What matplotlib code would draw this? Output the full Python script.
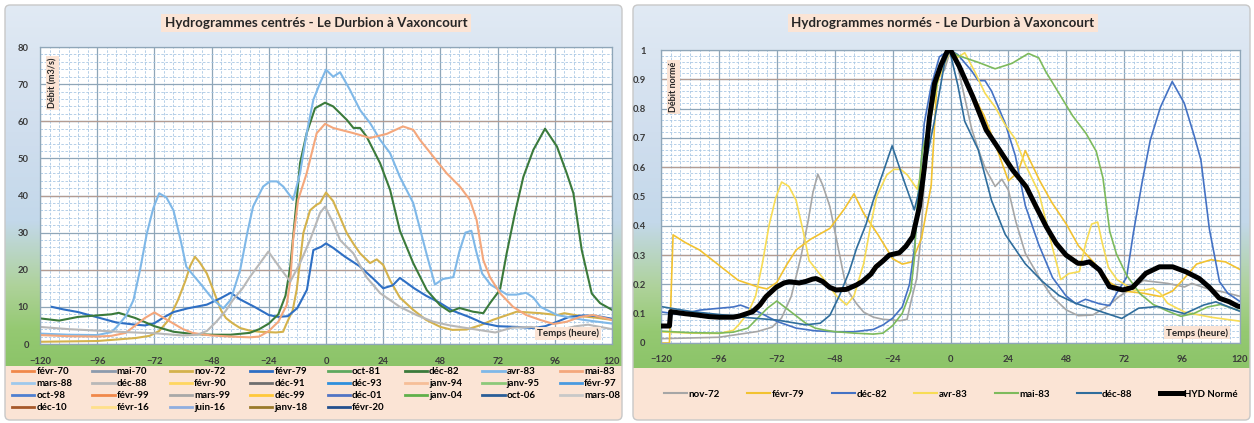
import numpy as np
import matplotlib
matplotlib.use("Agg")
import matplotlib.pyplot as plt
from matplotlib.patches import FancyBboxPatch, Rectangle
from matplotlib.colors import LinearSegmentedColormap
from matplotlib.lines import Line2D
from matplotlib.ticker import MultipleLocator

plt.rcParams['font.family'] = ['Lato', 'DejaVu Sans']

# ---------------- data ----------------
legend_labels = ["févr-70", "mai-70", "nov-72", "févr-79", "oct-81", "déc-82", "avr-83", "mai-83",
                 "mars-88", "déc-88", "févr-90", "déc-91", "déc-93", "janv-94", "janv-95", "févr-97",
                 "oct-98", "févr-99", "mars-99", "déc-99", "déc-01", "janv-04", "oct-06", "mars-08",
                 "déc-10", "févr-16", "juin-16", "janv-18", "févr-20"]
legend_colors = ["#F0884A", "#8C9BAD", "#D4B24C", "#2E6FC4", "#5EA85E", "#3B7A3B", "#7FB8E8", "#F4A77C",
                 "#9EC8EC", "#B8B8B8", "#FFD660", "#6E6E6E", "#2F8FDC", "#F6BE98", "#8CC87A", "#4A9AE0",
                 "#4F7FD0", "#F0884A", "#A8A8A8", "#FFC83A", "#5274C4", "#5FB04A", "#2A5E98", "#C8C8C8",
                 "#A6582A", "#FFE08A", "#8FAEE0", "#9A7A2A", "#24508E"]

# nov-72
t_nov72 = [-120, -108, -96, -88, -80, -74, -70, -66, -62, -59, -57, -55, -53, -50, -47, -44, -42, -39, -36,
           -32, -28, -24, -21, -18, -16.5, -14, -12.3, -9.5, -6.7, -4, -2.5, 0, 3, 6, 8.7, 11.5, 14.3, 18.5,
           21.3, 24, 27, 31, 36.6, 42, 48, 53, 59, 65, 70, 76, 80, 90, 97, 100, 107, 113, 120]
q_nov72 = [0.6, 0.7, 0.8, 1.2, 1.6, 2.2, 3.5, 6.5, 12, 17, 21, 23.5, 22, 19, 14, 9, 7, 5.5, 4.3,
           3.6, 3.3, 3.2, 3.1, 3.3, 5.6, 9, 14.6, 29.9, 36, 37.5, 38, 40.8, 38.5, 34, 29.9, 27, 24.4, 21.8,
           22.8, 21.3, 17, 12.5, 9.2, 6.5, 4.6, 3.8, 3.9, 5.1, 6.5, 7.8, 8.7, 8.3, 7.8, 8.3, 7.5, 7.1, 6.5]

# févr-79
t_fev79 = [-115, -110, -104, -96, -88, -80, -76, -72, -68, -64, -58, -50, -44, -40, -36, -30, -24, -20,
           -16, -12, -8, -5.3, -2, 0, 3, 8, 14, 20, 24, 28, 31, 37, 42, 48, 53, 60, 66, 72, 80, 87, 92,
           97, 102, 108, 114, 120]
q_fev79 = [10, 9.3, 8.6, 7.2, 5.8, 5.2, 5.0, 5.6, 7.2, 8.6, 9.6, 10.6, 12.4, 13.8, 12, 10, 7.8, 7.3,
           7.5, 9.7, 14.6, 25.3, 26.2, 27.1, 25.9, 23.5, 21, 17.5, 15, 15.8, 17.8, 15, 13, 11, 9, 7.3, 5.6,
           4.8, 4.6, 4.3, 4.8, 6, 7.3, 7.7, 7.5, 6.8]

# déc-82
t_dec82 = [-120, -112, -104, -96, -90, -87, -80, -72, -64, -56, -48, -40, -32, -28, -24, -20, -17, -15,
           -12.3, -10.9, -8.1, -4.6, -0.4, 3, 8.7, 11.5, 14.3, 17, 22.7, 26.9, 31, 36.6, 42.3, 47.8, 52, 56,
           61.7, 66, 68.8, 73, 75.8, 79.3, 82.8, 87, 91.9, 96.9, 101, 103.8, 107.3, 111.5, 115, 120]
q_dec82 = [6.9, 6.3, 7.3, 7.7, 8.0, 8.4, 7.0, 4.8, 3.3, 2.7, 2.5, 2.5, 3.0, 4.0, 5.5, 8, 13, 20.8,
           38.8, 48.7, 56.8, 63.5, 65, 64, 60.4, 58.2, 58.2, 55.9, 48.7, 41.5, 30.5, 21.8, 14.5, 10.5, 8.7, 9.7,
           8.7, 8.3, 11, 14.6, 24.4, 35.3, 45, 52.3, 58, 53.2, 46, 40.6, 25.3, 13.6, 11, 9.2]

# avr-83
t_avr83 = [-120, -108, -96, -90, -87.8, -84, -80.8, -78, -75.2, -72.5, -70, -67, -64, -61, -58.6, -55,
           -52.9, -47.3, -43.1, -40, -36, -33, -30.6, -26.4, -23.5, -20.6, -17.9, -13.8, -10.9, -8.1, -5.3,
           -2.5, 0, 3, 5.9, 10, 14.3, 18.5, 22.7, 26.9, 31, 36.6, 42.3, 45.7, 49, 53.4, 56, 58.5, 61, 63,
           65.5, 69, 76, 80, 84, 87, 90, 97, 108, 120]
q_avr83 = [2.8, 2.5, 2.4, 3.2, 4.6, 7.5, 11.8, 20, 29.7, 36.5, 40.6, 39.5, 36, 28, 20.8, 18,
           16.4, 11.9, 9.6, 11.9, 20, 30, 37, 42.4, 43.8, 43.8, 42.4, 38.8, 46, 56.8, 65.8,
           70.3, 73.9, 72, 73.2, 68.5, 63, 59.5, 55, 51.4, 45, 38, 24, 16, 17.5, 18, 25, 30, 30.5, 25,
           19, 16, 13.3, 13.3, 13.8, 12.5, 10, 7.8, 6.5, 5.5]

# mai-83
t_mai83 = [-120, -108, -96, -90, -84, -80, -76, -72, -68, -64, -60, -56, -52, -48, -40, -32, -28, -24,
           -20, -16.5, -15, -13.8, -11.7, -8.1, -3.9, -0.4, 3, 11.5, 18.5, 25.5, 32.3, 36.6, 39.4, 45, 50.6,
           56.2, 60.4, 63.2, 66, 68.8, 73, 78.5, 84, 89.8, 95.5, 101, 106.6, 112, 120]
q_mai83 = [2.4, 2.1, 2.0, 2.2, 3, 5, 7, 8.5, 7, 5.5, 4, 3, 2.6, 2.3, 2.0, 1.8, 2.0, 3.5,
           6, 10.5, 17, 28, 38.8, 46, 56.8, 59.3, 58.2, 56.8, 55.5, 56.6, 58.6, 57.7, 55, 50.5, 46,
           42.4, 38.8, 33.4, 22.6, 18, 13.7, 10, 7.8, 6.5, 5.4, 6, 7.3, 7.8, 6.5]

# déc-88
t_dec88 = [-120, -108, -96, -84, -72, -60, -54, -50, -46, -42, -39, -35, -32, -28, -24.2, -19.3, -15,
           -10.9, -6.7, -2.5, -0.4, 3, 5.9, 11.5, 17, 22.7, 31, 38, 45, 52, 60, 66, 71, 78, 86, 97, 105,
           110, 120]
q_dec88 = [4.6, 4.0, 3.6, 3.2, 2.9, 2.3, 2.5, 3.5, 6, 9, 11.9, 15, 18, 21.5, 24.9, 20.5, 16.8,
           21.8, 28, 35.3, 37, 32.6, 28, 24.4, 18, 13.7, 10, 7.8, 6.0, 5.0, 4.2, 3.6, 3.1, 4.4, 4.6, 3.7, 4.8,
           5.2, 4.0]

# normalised chart: févr-79 is zero before its record starts
t_fev79_lead = [-120, -116.5]
q_fev79_lead = [0, 0]

# HYD Normé (mean normalised hydrograph)
t_hyd = [-120, -116.5, -116, -110, -105.5, -100, -95.8, -90, -87.5, -82, -79, -76.5, -72.3, -69, -66.8,
         -62.7, -60, -57.2, -55.7, -53, -50.1, -47.4, -43.2, -39, -36.5, -33, -30.9, -28, -25.4, -21.2,
         -18.5, -15.7, -12.9, -10.8, -8.7, -6.6, -3.9, -1.1, 0, 3.7, 9.3, 14.8, 20.3, 25.8, 31.4, 35.5,
         39.7, 43.8, 47.9, 52.8, 55, 57.6, 61.8, 65.9, 71.4, 75.5, 81, 86.6, 92.1, 97.6, 103.1, 107.3,
         111.4, 115.5, 119, 120]
q_hyd = [0.058, 0.058, 0.107, 0.1, 0.096, 0.09, 0.088, 0.088, 0.092, 0.107, 0.13, 0.158, 0.19, 0.205,
         0.209, 0.205, 0.21, 0.218, 0.22, 0.21, 0.19, 0.181, 0.183, 0.198, 0.21, 0.235, 0.26, 0.28, 0.30,
         0.308, 0.33, 0.363, 0.465, 0.6, 0.77, 0.886, 0.95, 1.0, 1.0, 0.943, 0.84, 0.727, 0.659, 0.59,
         0.533, 0.465, 0.397, 0.34, 0.30, 0.272, 0.272, 0.277, 0.249, 0.192, 0.181, 0.19, 0.238, 0.26,
         0.26, 0.243, 0.22, 0.19, 0.153, 0.141, 0.126, 0.124]

norm_labels = ["nov-72", "févr-79", "déc-82", "avr-83", "mai-83", "déc-88"]
norm_colors = ["#A6A6A6", "#F2C230", "#4472C4", "#F7DC55", "#7DBA5C", "#2F6D9C"]

series = {
    "nov-72": (t_nov72, q_nov72),
    "févr-79": (t_fev79, q_fev79),
    "déc-82": (t_dec82, q_dec82),
    "avr-83": (t_avr83, q_avr83),
    "mai-83": (t_mai83, q_mai83),
    "déc-88": (t_dec88, q_dec88),
}

x_ticks = [-120, -96, -72, -48, -24, 0, 24, 48, 72, 96, 120]
# secondary (brownish) horizontal gridlines
left_sec_grid = [20, 40, 60]
right_sec_grid = [0.3, 0.6, 0.9]

# ---------------- figure ----------------
W, H = 1254, 423
fig = plt.figure(figsize=(W / 100, H / 100), dpi=100)


def rect(x0, y0, x1, y1):
    return [x0 / W, 1 - y1 / H, (x1 - x0) / W, (y1 - y0) / H]


bg = fig.add_axes([0, 0, 1, 1], zorder=0)
bg.axis('off')
grad = LinearSegmentedColormap.from_list(
    'g', [(0, '#E1EAF4'), (0.35, '#D0DEEE'), (0.6, '#C3D8EA'), (0.78, '#AED29A'),
          (0.9, '#95C972'), (1, '#8CC469')])
TXT = '#262626'
PEACH = '#FBE4D5'
panels = [(5, 622, 366), (633, 1250, 368)]
for x0, x1, leg_top in panels:
    box = FancyBboxPatch((x0, 5), x1 - x0, 415, boxstyle='round,pad=0,rounding_size=5',
                         fc='none', ec='#C8C8C8', lw=1.0, zorder=3)
    bg.add_patch(box)
    im = bg.imshow(np.linspace(0, 1, 256).reshape(-1, 1), cmap=grad, origin='upper',
                   extent=(x0, x1, leg_top, 5), aspect='auto', zorder=0)
    im.set_clip_path(box)
    pr = Rectangle((x0, leg_top), x1 - x0, 420 - leg_top, fc=PEACH, ec='none', zorder=1)
    bg.add_patch(pr)
    pr.set_clip_path(box)
bg.set_xlim(0, W)
bg.set_ylim(H, 0)

title_box = dict(boxstyle='square,pad=0.25', fc=PEACH, ec='none')
bg.text(316, 23, "Hydrogrammes centrés - Le Durbion à Vaxoncourt", ha='center', va='center',
        fontsize=9.6, fontweight='bold', color=TXT, bbox=title_box, zorder=4)
bg.text(943, 23, "Hydrogrammes normés - Le Durbion à Vaxoncourt", ha='center', va='center',
        fontsize=9.6, fontweight='bold', color=TXT, bbox=title_box, zorder=4)

MAJ = '#8FA6B8'
MIN = '#A9C8E4'
SEC = '#B49C92'


def style_axes(ax, ymax, ymaj, ymin_step, sec):
    ax.set_facecolor('white')
    ax.set_xlim(-120, 120)
    ax.set_ylim(0, ymax)
    ax.xaxis.set_major_locator(MultipleLocator(24))
    ax.xaxis.set_minor_locator(MultipleLocator(4))
    ax.yaxis.set_major_locator(MultipleLocator(ymaj))
    ax.yaxis.set_minor_locator(MultipleLocator(ymin_step))
    ax.grid(which='minor', color=MIN, lw=0.6, ls=(0, (3, 2)))
    ax.grid(which='major', color=MAJ, lw=0.9, ls='-')
    ax.set_axisbelow(True)
    for yv in sec:
        ax.axhline(yv, color=SEC, lw=0.9, zorder=0.9)
    for s in ax.spines.values():
        s.set_color(MAJ)
        s.set_linewidth(0.9)
    ax.tick_params(which='both', length=0, labelsize=6.8, labelcolor='#3A3A3A')


# ---- left chart ----
axL = fig.add_axes(rect(40, 47, 612, 344), zorder=2)
style_axes(axL, 80, 10, 2, left_sec_grid)
axL.set_xticks(x_ticks)
axL.tick_params(axis='x', pad=9)
axL.tick_params(axis='y', pad=8)
for lab in axL.get_xticklabels() + axL.get_yticklabels():
    lab.set_fontweight('bold')
for lab, col in zip(legend_labels, legend_colors):
    if lab in series:
        t, q = series[lab]
        axL.plot(t, q, color=col, lw=1.5, solid_joinstyle='round', zorder=2)
lab_box = dict(boxstyle='square,pad=0.2', fc=PEACH, ec='none')
axL.text(0.022, 0.88, "Débit (m3/s)", transform=axL.transAxes, rotation=90, ha='center', va='center',
         fontsize=6.5, fontweight='bold', color=TXT, bbox=lab_box, zorder=5)
axL.text(0.923, 0.035, "Temps (heure)", transform=axL.transAxes, ha='center', va='center',
         fontsize=7, fontweight='bold', color=TXT, bbox=lab_box, zorder=5)

handles = [Line2D([], [], color=c, lw=2) for c in legend_colors]
ncol = 8
order = []
for c in range(ncol):
    for r in range(4):
        i = r * ncol + c
        if i < len(legend_labels):
            order.append(i)
fig.legend([handles[i] for i in order], [legend_labels[i] for i in order],
           loc='upper left', bbox_to_anchor=(12 / W, 1 - 419 / H, 608 / W, 52 / H), mode='expand',
           ncol=ncol, frameon=False, handlelength=2.3, handletextpad=0.2,
           labelspacing=0.32, borderaxespad=0, borderpad=0, prop={'weight': 'bold', 'size': 7})

# ---- right chart ----
axR = fig.add_axes(rect(661, 50, 1240, 343), zorder=2)
style_axes(axR, 1.0, 0.1, 0.02, right_sec_grid)
axR.set_xticks(x_ticks)
axR.set_yticks(np.round(np.arange(0, 1.01, 0.1), 1))
axR.set_yticklabels(['0'] + [f"{v:.1f}" for v in np.arange(0.1, 0.95, 0.1)] + ['1'])
axR.tick_params(axis='x', pad=9)
axR.tick_params(axis='y', pad=11)
for lab in axR.get_xticklabels() + axR.get_yticklabels():
    lab.set_fontweight('bold')
for lab, col in zip(norm_labels, norm_colors):
    t, q = series[lab]
    qn = np.asarray(q) / max(q)
    if lab == "févr-79":
        t = list(t_fev79_lead) + list(t)
        qn = np.concatenate([q_fev79_lead, qn])
    axR.plot(t, qn, color=col, lw=1.2, zorder=2)
axR.plot(t_hyd, q_hyd, color='black', lw=3.6, solid_joinstyle='round', zorder=3)
axR.text(0.022, 0.875, "Débit normé", transform=axR.transAxes, rotation=90, ha='center', va='center',
         fontsize=6.5, fontweight='bold', color=TXT, bbox=lab_box, zorder=5)
axR.text(0.925, 0.035, "Temps (heure)", transform=axR.transAxes, ha='center', va='center',
         fontsize=7, fontweight='bold', color=TXT, bbox=lab_box, zorder=5)

rh = [Line2D([], [], color=c, lw=1.5) for c in norm_colors] + [Line2D([], [], color='black', lw=3.6)]
fig.legend(rh, norm_labels + ["HYD Normé"], loc='center left',
           bbox_to_anchor=(664 / W, 1 - 394 / H, 574 / W, 0), mode='expand', ncol=7, frameon=False,
           handlelength=2.4, handletextpad=0.15, borderaxespad=0, borderpad=0,
           prop={'weight': 'bold', 'size': 7})

fig.savefig("out.png", dpi=100)
